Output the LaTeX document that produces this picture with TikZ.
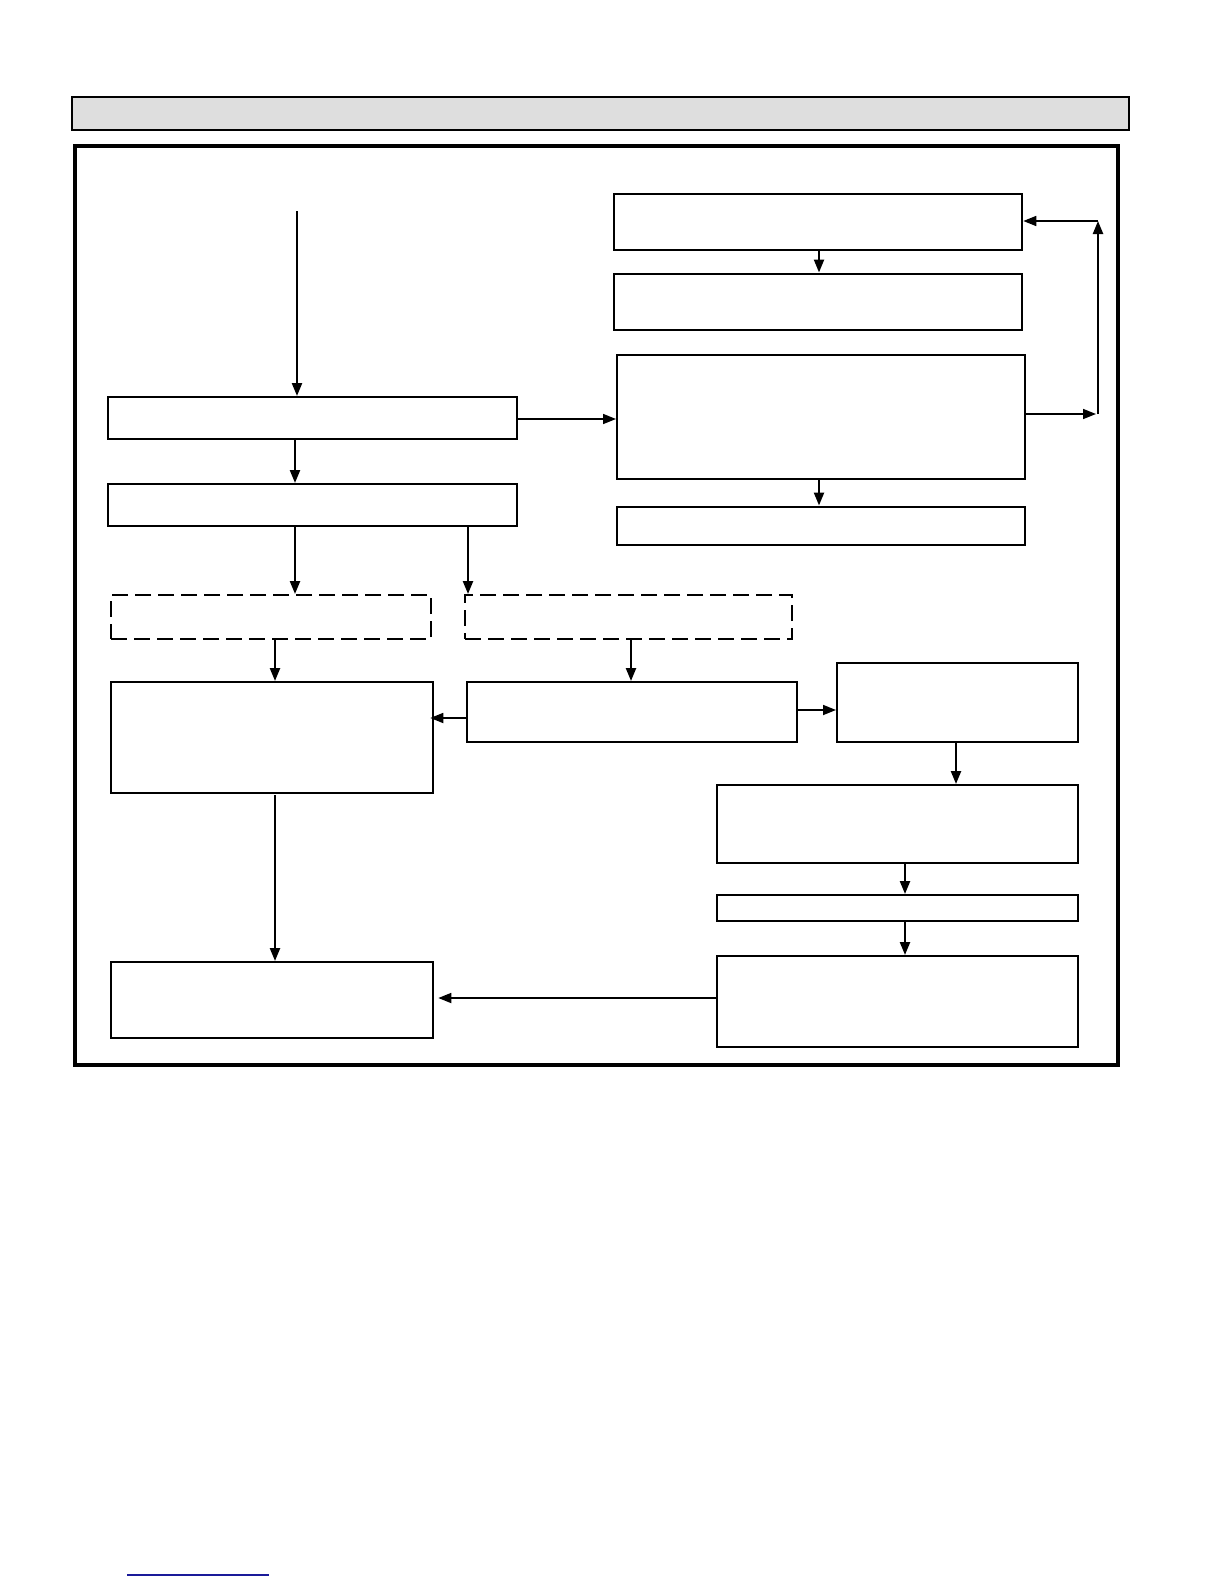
\documentclass[tikz,border=0pt]{standalone}
\usetikzlibrary{arrows.meta}
\definecolor{hdrgray}{HTML}{DEDEDE}
\definecolor{linkblue}{HTML}{1A1A99}
\begin{document}
\begin{tikzpicture}[x=1pt,y=-1pt,
  box/.style={draw=black,line width=2.3pt,rectangle,inner sep=0pt,anchor=north west},
  dbox/.style={box,dash pattern=on 16pt off 7pt},
  arr/.style={line width=2.3pt,-{Triangle[length=13pt,width=10pt]}},
  thinarr/.style={line width=1.7pt,-{Triangle[length=13pt,width=10pt]}}]
\useasboundingbox (0,0) rectangle (1224,1584);
\fill[white] (0,0) rectangle (1224,1584);
% header bar and frame
\node[box,fill=hdrgray,line width=2pt,minimum width=1057pt,minimum height=33pt] (hdr) at (71,96) {};
\node[box,line width=3.5pt,minimum width=1043pt,minimum height=919pt] (frame) at (73,144) {};
% right column
\node[box,minimum width=408pt,minimum height=56pt] (A) at (613,193) {};
\node[box,minimum width=408pt,minimum height=56pt] (B) at (613,272.5) {};
\node[box,minimum width=408pt,minimum height=124pt] (C) at (616,354) {};
\node[box,minimum width=408pt,minimum height=38pt] (D) at (616,505.5) {};
% left column
\node[box,minimum width=409pt,minimum height=42pt] (E) at (107,396) {};
\node[box,minimum width=409pt,minimum height=42pt] (F) at (107,483) {};
\node[dbox,minimum width=320pt,minimum height=44pt] (G) at (110,594) {};
\node[dbox,minimum width=327pt,minimum height=44pt] (H) at (464,594) {};
\node[box,minimum width=322pt,minimum height=111pt] (I) at (110,681) {};
\node[box,minimum width=330pt,minimum height=60pt] (J) at (466,681) {};
\node[box,minimum width=241pt,minimum height=79pt] (K) at (836,662) {};
\node[box,minimum width=361pt,minimum height=78pt] (L) at (716,784) {};
\node[box,minimum width=361pt,minimum height=26pt] (M) at (716,894) {};
\node[box,minimum width=361pt,minimum height=91pt] (N) at (716,955) {};
\node[box,minimum width=322pt,minimum height=76pt] (O) at (110,961) {};
% helper coordinates
\coordinate (start) at (297,211);
\coordinate (xef) at (295,0);
\coordinate (xfh) at (468,0);
\coordinate (xgi) at (275,0);
\coordinate (xhj) at (631,0);
\coordinate (xab) at (819,0);
\coordinate (xkl) at (956,0);
\coordinate (xlm) at (905,0);
\coordinate (yec) at (0,419);
\coordinate (yji) at (0,718);
\coordinate (yjk) at (0,710);
\coordinate (yno) at (0,998);
\coordinate (loopB) at (1098,414);
\coordinate (loopT) at (1098,221);
\coordinate (ioStart) at (275,795);
% connectors
\draw[arr] (start) -- (start |- E.north);
\draw[arr] (xef |- E.south) -- (xef |- F.north);
\draw[arr] (xef |- F.south) -- (xef |- G.north);
\draw[arr] (xfh |- F.south) -- (xfh |- H.north);
\draw[arr] (xgi |- G.south) -- (xgi |- I.north);
\draw[arr] (ioStart) -- (xgi |- O.north);
\draw[arr] (xhj |- H.south) -- (xhj |- I.north);
\draw[arr] (xab |- A.south) -- (xab |- B.north);
\draw[arr] (xab |- C.south) -- (xab |- D.north);
\draw[thinarr] (E.east |- yec) -- (C.west |- yec);
\draw[thinarr] (C.east |- loopB) -- ([xshift=-2pt]loopB);
\draw[arr] (loopB) -- (loopT);
\draw[thinarr] (loopT) -- (A.east |- loopT);
\draw[thinarr] (J.west |- yji) -- ([xshift=-4pt]I.east |- yji);
\draw[thinarr] (J.east |- yjk) -- (K.west |- yjk);
\draw[arr] (xkl |- K.south) -- (xkl |- L.north);
\draw[arr] (xlm |- L.south) -- (xlm |- M.north);
\draw[arr] (xlm |- M.south) -- (xlm |- N.north);
\draw[thinarr] (N.west |- yno) -- ([xshift=4pt]O.east |- yno);
% blue underline at page foot
\coordinate (blA) at (127,1575);
\coordinate (blB) at (269,1575);
\draw[linkblue,line width=1.4pt] (blA) -- (blB);
\end{tikzpicture}
\end{document}
